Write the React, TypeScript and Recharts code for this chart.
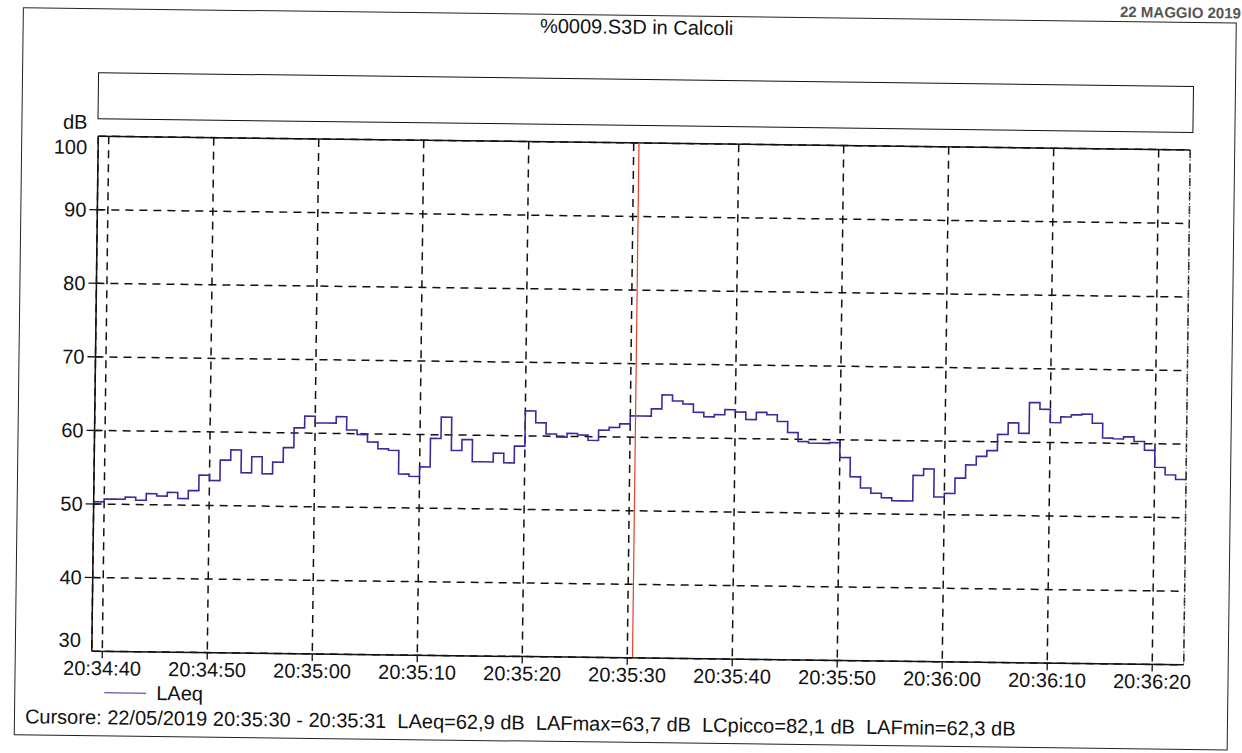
import { LineChart, Line, XAxis, YAxis, CartesianGrid, ReferenceLine } from 'recharts';

// LAeq, one value per second, starting 1 s before 20:34:40
const startSecond = -1;
const laeqValues = [
  50.3, 50.7, 50.7, 51.0, 50.6, 51.5, 51.2, 51.7, 50.9, 52.0,
  54.1, 53.4, 56.2, 57.6, 54.5, 56.7, 54.4, 56.0, 58.0, 60.7,
  62.3, 61.4, 61.4, 62.3, 60.5, 59.9, 58.9, 58.0, 57.8, 54.6,
  54.3, 55.6, 59.5, 62.4, 57.9, 59.4, 56.4, 56.4, 57.6, 56.3,
  58.6, 63.4, 61.8, 60.3, 59.9, 60.4, 60.2, 59.5, 60.9, 61.3,
  61.8, 62.9, 62.9, 63.9, 65.8, 65.0, 64.6, 63.5, 62.9, 63.2,
  63.9, 63.6, 62.6, 63.6, 63.3, 62.4, 60.9, 59.7, 59.5, 59.5,
  59.6, 57.6, 55.0, 53.5, 52.8, 52.2, 51.8, 51.8, 55.3, 56.2,
  52.4, 52.9, 55.0, 56.8, 58.0, 58.8, 61.0, 62.6, 61.2, 65.4,
  64.5, 62.7, 63.5, 63.8, 63.9, 62.7, 60.7, 60.6, 60.9, 60.3,
  59.1, 56.8, 55.8, 55.2,
];

const tickSeconds = [0, 10, 20, 30, 40, 50, 60, 70, 80, 90, 100];
const tickLabels = [
  '20:34:40', '20:34:50', '20:35:00', '20:35:10', '20:35:20', '20:35:30',
  '20:35:40', '20:35:50', '20:36:00', '20:36:10', '20:36:20',
];
const dbTicks = [30, 40, 50, 60, 70, 80, 90, 100];
const cursorSecond = 50.5;

const title = '%0009.S3D in Calcoli';
const pageHeader = '22 MAGGIO 2019';
const cursorText =
  'Cursore: 22/05/2019 20:35:30 - 20:35:31  LAeq=62,9 dB  LAFmax=63,7 dB  LCpicco=82,1 dB  LAFmin=62,3 dB';

const FONT = '"Liberation Sans", Arial, sans-serif';
const LINE_COLOR = '#3b2a9c';

const data = laeqValues.map((v, i) => ({ t: startSecond + i, v }));
// close the last step at the right edge
data.push({ t: startSecond + laeqValues.length, v: laeqValues[laeqValues.length - 1] });

function XTick({ x, y, payload }: any) {
  const idx = tickSeconds.indexOf(payload.value);
  return (
    <g>
      <line x1={x} y1={y} x2={x} y2={y + 7} stroke="#111" strokeWidth={1.3} />
      <text x={x} y={y + 24} textAnchor="middle" fontSize={20} fontFamily={FONT} fill="#111">
        {tickLabels[idx]}
      </text>
    </g>
  );
}

function YTick({ x, y, payload }: any) {
  // end labels are pulled inside the plot frame
  let dy = 7;
  if (payload.value === 100) dy = 18;
  if (payload.value === 30) dy = -4;
  return (
    <g>
      {payload.value !== 100 && payload.value !== 30 && (
        <line x1={x - 8} y1={y} x2={x + 6} y2={y} stroke="#111" strokeWidth={1.3} />
      )}
      <text x={x - 11} y={y + dy} textAnchor="end" fontSize={20} fontFamily={FONT} fill="#111">
        {payload.value}
      </text>
    </g>
  );
}

export default function App() {
  return (
    <div style={{ position: 'absolute', left: 0, top: 0, width: 1242, height: 753, background: '#fff', overflow: 'hidden' }}>
      <div
        style={{
          position: 'absolute', left: 0, top: 0, width: 1242, height: 753,
          transform: 'rotate(0.72deg)', transformOrigin: '640px 400px',
          fontFamily: FONT, color: '#111',
        }}
      >
        {/* page header above the frame */}
        <div style={{ position: 'absolute', right: 6, top: -2, fontSize: 15, fontWeight: 'bold', color: '#555', lineHeight: '15px' }}>
          {pageHeader}
        </div>

        {/* outer frame */}
        <div style={{ position: 'absolute', left: 18, top: 15, width: 1214, height: 728, border: '1.3px solid #222', boxSizing: 'border-box' }} />

        <div style={{ position: 'absolute', left: 432, top: 17, width: 400, textAlign: 'center', fontSize: 20, lineHeight: '20px' }}>
          {title}
        </div>

        {/* empty band above the plot */}
        <div style={{ position: 'absolute', left: 94, top: 79, width: 1096, height: 47, border: '1.5px solid #111', boxSizing: 'border-box' }} />

        <div style={{ position: 'absolute', left: 40, top: 119, width: 44, textAlign: 'right', fontSize: 20, lineHeight: '20px' }}>
          dB
        </div>

        <div style={{ position: 'absolute', left: 0, top: 0 }}>
          <LineChart width={1242} height={753} data={data} margin={{ top: 143, right: 55, bottom: 0, left: 0 }}>
            <CartesianGrid stroke="#111" strokeDasharray="8 6" strokeWidth={1.5} />
            <XAxis
              dataKey="t"
              type="number"
              domain={[-1, 103]}
              ticks={tickSeconds}
              allowDataOverflow
              height={95}
              tickSize={0}
              tickMargin={0}
              tickLine={false}
              axisLine={{ stroke: '#111', strokeWidth: 1.5 }}
              tick={<XTick />}
              interval={0}
            />
            <YAxis
              type="number"
              domain={[30, 100]}
              ticks={dbTicks}
              allowDataOverflow
              width={95}
              tickSize={0}
              tickMargin={0}
              tickLine={false}
              axisLine={{ stroke: '#111', strokeWidth: 1.5 }}
              tick={<YTick />}
              interval={0}
            />
            <ReferenceLine y={100} stroke="#111" strokeWidth={1.5} />
            <ReferenceLine x={103} stroke="#666" strokeWidth={1} strokeDasharray="2 2" />
            <Line
              type="stepAfter"
              dataKey="v"
              stroke={LINE_COLOR}
              strokeWidth={1.6}
              dot={false}
              activeDot={false}
              isAnimationActive={false}
            />
            <ReferenceLine x={cursorSecond} stroke="#e0452c" strokeWidth={1.2} />
          </LineChart>
        </div>

        {/* legend */}
        <div style={{ position: 'absolute', left: 108, top: 699, width: 42, borderTop: `1.6px solid ${LINE_COLOR}` }} />
        <div style={{ position: 'absolute', left: 160, top: 689, fontSize: 20, lineHeight: '20px' }}>LAeq</div>

        <div style={{ position: 'absolute', left: 29, top: 714, fontSize: 20, lineHeight: '20px', whiteSpace: 'pre' }}>
          {cursorText}
        </div>
      </div>
    </div>
  );
}
